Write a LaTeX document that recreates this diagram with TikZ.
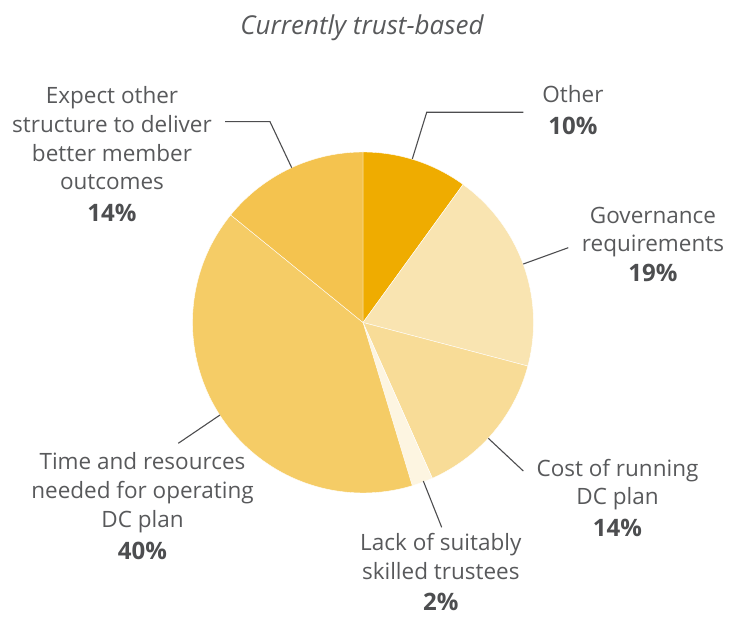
\documentclass[tikz,border=0pt]{standalone}
\usepackage{fontspec}
\setmainfont{Open Sans}
\definecolor{cOther}{HTML}{EFAC00}
\definecolor{cGov}{HTML}{F9E4B1}
\definecolor{cCost}{HTML}{F8DC97}
\definecolor{cLack}{HTML}{FDF5E1}
\definecolor{cTime}{HTML}{F5CC66}
\definecolor{cExpect}{HTML}{F4C34F}
\definecolor{txt}{HTML}{58595B}
\definecolor{txtb}{HTML}{4D4E50}
\definecolor{lead}{HTML}{4D4D4F}
\newcommand{\pct}[1]{{\color{txtb}\bfseries\fontsize{24}{28.7}\selectfont #1}}
\begin{document}
\begin{tikzpicture}[x=1pt,y=1pt,
  lbl/.style={anchor=base,align=center,inner sep=0pt,text=txt,font=\fontsize{22.5}{28.7}\selectfont},
  leader/.style={draw=lead,line width=1.1pt},
  slice/.style={draw=white,line width=0.4pt,line join=round}]
\useasboundingbox (0,0) rectangle (729,-617);
\def\R{170.5}
\coordinate (C) at (363,-322.5);
% slices
\filldraw[slice,fill=cOther]  (C) -- ++(54.05:\R) arc[start angle=54.05,end angle=90,radius=\R] -- cycle;
\filldraw[slice,fill=cGov]    (C) -- ++(-14.8:\R) arc[start angle=-14.8,end angle=54.05,radius=\R] -- cycle;
\filldraw[slice,fill=cCost]   (C) -- ++(-66:\R) arc[start angle=-66,end angle=-14.8,radius=\R] -- cycle;
\filldraw[slice,fill=cLack]   (C) -- ++(-73.2:\R) arc[start angle=-73.2,end angle=-66,radius=\R] -- cycle;
\filldraw[slice,fill=cTime]   (C) -- ++(140.9:\R) arc[start angle=140.9,end angle=286.8,radius=\R] -- cycle;
\filldraw[slice,fill=cExpect] (C) -- ++(90:\R) arc[start angle=90,end angle=140.9,radius=\R] -- cycle;
% title
\node[lbl,font=\fontsize{26}{30}\selectfont\itshape] (title) at (362,-35) {Currently trust-based};
% labels (anchor = baseline of last line)
\node[lbl] (lExpect) at (112,-222) {Expect other\\structure to deliver\\better member\\outcomes\\[3.3pt]\pct{14\%}};
\node[lbl] (lOther) at (573,-135) {Other\\[3.3pt]\pct{10\%}};
\node[lbl] (lGov) at (653,-282) {Governance\\requirements\\[1.5pt]\pct{19\%}};
\node[lbl] (lTime) at (142.5,-560) {Time and resources\\needed for operating\\DC plan\\[4pt]\pct{40\%}};
\node[lbl] (lCost) at (617.5,-536.7) {Cost of running\\DC plan\\[3pt]\pct{14\%}};
\node[lbl] (lLack) at (440.8,-611) {Lack of suitably\\skilled trustees\\[3pt]\pct{2\%}};
% leader lines
\coordinate (pOther) at (412.3,-159);
\coordinate (kOther) at (426.7,-112.3);
\coordinate (eOther) at (523.3,-112.3);
\coordinate (pGov) at (523.3,-264);
\coordinate (eGov) at (568.3,-247.7);
\coordinate (pCost) at (488.3,-438.3);
\coordinate (eCost) at (523.3,-471);
\coordinate (pLack) at (423.3,-481);
\coordinate (eLack) at (441.7,-527.3);
\coordinate (pTime) at (220,-415);
\coordinate (eTime) at (178.3,-443.3);
\coordinate (pExpect) at (291.7,-167.7);
\coordinate (kExpect) at (270,-121.7);
\coordinate (eExpect) at (225,-121.7);
\draw[leader] (pOther) -- (kOther) -- (eOther);
\draw[leader] (pGov) -- (eGov);
\draw[leader] (pCost) -- (eCost);
\draw[leader] (pLack) -- (eLack);
\draw[leader] (pTime) -- (eTime);
\draw[leader] (pExpect) -- (kExpect) -- (eExpect);
\end{tikzpicture}
\end{document}
